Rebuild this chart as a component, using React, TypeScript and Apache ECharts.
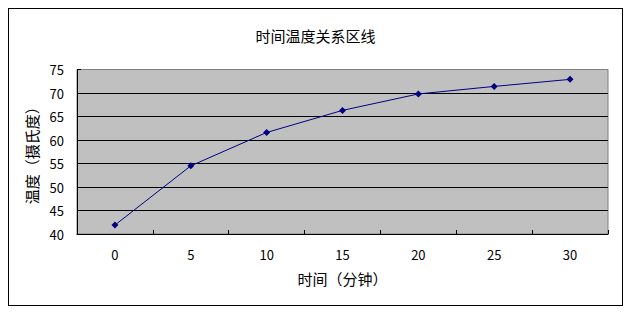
import React, { useEffect, useRef } from "react";
import * as echarts from "echarts";

const titleText = "时间温度关系区线";
const xName = "时间（分钟）";
const yName = "温度（摄氏度）";
const categories = ["0", "5", "10", "15", "20", "25", "30"];
const temperatures = [41.9, 54.5, 61.6, 66.3, 69.8, 71.4, 72.9];

const FONT = "'Noto Sans CJK SC', 'Noto Sans', sans-serif";

export default function App() {
  const ref = useRef<HTMLDivElement>(null);
  useEffect(() => {
    if (!ref.current) return;
    const chart = echarts.init(ref.current, undefined, { renderer: "svg" });
    chart.setOption({
      animation: false,
      backgroundColor: "#ffffff",
      textStyle: { fontFamily: FONT },
      title: {
        text: titleText,
        left: "center",
        top: 14,
        textStyle: { fontSize: 15, fontWeight: "normal", color: "#000", fontFamily: FONT },
      },
      grid: {
        left: 68,
        top: 60.5,
        right: 14,
        bottom: 71,
        show: true,
        backgroundColor: "#C0C0C0",
        borderColor: "#808080",
        borderWidth: 1,
      },
      xAxis: {
        type: "category",
        data: categories,
        boundaryGap: true,
        name: xName,
        nameLocation: "middle",
        nameGap: 37,
        nameTextStyle: { fontSize: 15, color: "#000", fontFamily: FONT },
        axisLine: { lineStyle: { color: "#000", width: 1 } },
        axisTick: { show: true, inside: true, length: 4, lineStyle: { color: "#000" } },
        axisLabel: { fontSize: 13, color: "#000", margin: 14, fontFamily: FONT },
        splitLine: { show: false },
      },
      yAxis: {
        type: "value",
        min: 40,
        max: 75,
        interval: 5,
        name: yName,
        nameLocation: "middle",
        nameGap: 38,
        nameRotate: 90,
        nameTextStyle: { fontSize: 15, color: "#000", fontFamily: FONT },
        axisLine: { show: true, lineStyle: { color: "#000", width: 1 } },
        axisTick: { show: true, inside: true, length: 4, lineStyle: { color: "#000" } },
        axisLabel: { fontSize: 13, color: "#000", margin: 13, fontFamily: FONT },
        splitLine: {
          show: true,
          lineStyle: {
            color: ["#000", "#000", "#000", "#000", "#000", "#000", "#000", "#808080"],
            width: 1,
          },
        },
      },
      series: [
        {
          type: "line",
          data: temperatures,
          symbol: "diamond",
          symbolSize: 7,
          lineStyle: { color: "#000080", width: 1 },
          itemStyle: { color: "#000080" },
        },
      ],
    });
    return () => chart.dispose();
  }, []);
  return (
    <div style={{ width: 613, height: 296, border: "1px solid #000" }}>
      <div ref={ref} style={{ width: 613, height: 296 }} />
    </div>
  );
}
